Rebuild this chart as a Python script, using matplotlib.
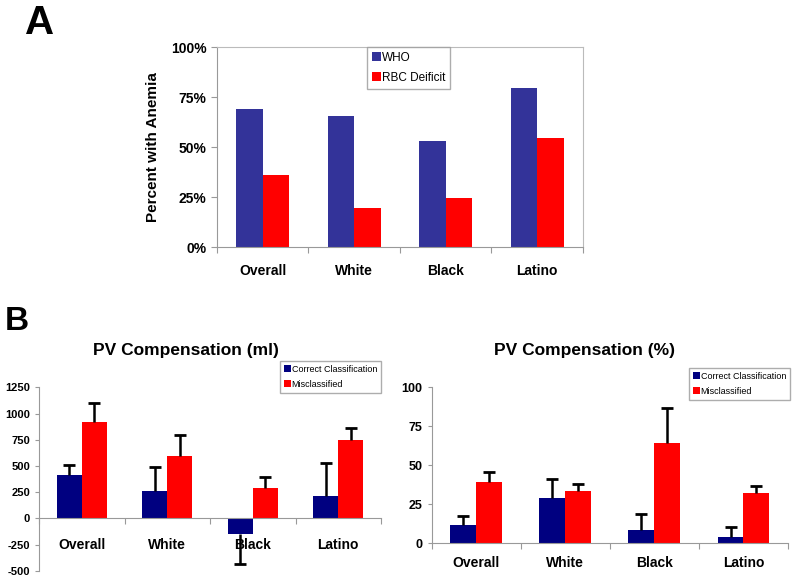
import matplotlib.pyplot as plt
import numpy as np

plt.rcParams['font.family'] = ['Liberation Sans', 'DejaVu Sans']

groups = ['Overall', 'White', 'Black', 'Latino']

# panel A: percent with anemia
who = [69, 65.5, 53, 79.5]
rbc_deficit = [36, 19.5, 24.3, 54.3]

# panel B: PV compensation (ml)
ml_correct = [418, 265, -153, 217]
ml_correct_err = [90, 220, 287, 312]
ml_miscl = [921, 593, 287, 746]
ml_miscl_err = [179, 201, 108, 112]

# panel B: PV compensation (%)
pct_correct = [11.7, 29.3, 8.5, 4.2]
pct_correct_err = [5.9, 11.7, 10.6, 6.4]
pct_miscl = [39.3, 33.8, 64.4, 32.1]
pct_miscl_err = [6.4, 4.2, 22.1, 4.6]

grey = '#999999'
x = np.arange(len(groups))
w = 0.29


def category_axis(ax, pad):
    ax.set_xlim(-0.5, len(groups) - 0.5)
    ax.set_xticks(np.arange(len(groups) + 1) - 0.5)
    ax.set_xticklabels([])
    ax.tick_params(axis='x', which='major', length=4, color=grey, direction='out')
    ax.set_xticks(x, minor=True)
    ax.set_xticklabels(groups, minor=True, fontweight='bold', fontsize=10)
    ax.tick_params(axis='x', which='minor', length=0, pad=pad)


def one_sided_err(ax, xpos, vals, errs):
    # error line goes away from zero only, with a single cap at its end
    ends = [v - e if v < 0 else v + e for v, e in zip(vals, errs)]
    ax.vlines(xpos, vals, ends, color='black', linewidth=1.8, zorder=3)
    ax.plot(xpos, ends, linestyle='none', marker='_', markersize=8,
            markeredgewidth=2, color='black', zorder=3)


def legend_box(handles, labels, anchor, size):
    fig.legend(handles, labels, loc='upper left', bbox_to_anchor=anchor, fontsize=size,
               frameon=True, fancybox=False, edgecolor=grey, handlelength=0.8,
               handleheight=0.8, handletextpad=0.1, borderpad=0.4, labelspacing=0.7,
               borderaxespad=0)


fig = plt.figure(figsize=(8, 5.82), dpi=100)

# ---- A
axA = fig.add_axes([0.271, 0.5756, 0.4575, 0.3436])
axA.bar(x - w / 2, who, w, color='#333399', label='WHO')
axA.bar(x + w / 2, rbc_deficit, w, color='#ff0000', label='RBC Deificit')
axA.set_ylim(0, 100)
axA.set_yticks([0, 25, 50, 75, 100])
axA.set_yticklabels(['0%', '25%', '50%', '75%', '100%'], fontweight='bold', fontsize=10)
axA.tick_params(axis='y', length=4, color=grey)
category_axis(axA, 12)
for s in axA.spines.values():
    s.set_color('#bbbbbb')
axA.spines['left'].set_color(grey)
axA.spines['bottom'].set_color(grey)
axA.set_ylabel('Percent with Anemia', fontweight='bold', fontsize=11, labelpad=8)
legend_box(*axA.get_legend_handles_labels(), (367 / 800, 1 - 47 / 582), 8.5)

# ---- B left
axL = fig.add_axes([0.04875, 0.0194, 0.4275, 0.3151])
axL.bar(x - w / 2, ml_correct, w, color='#000080', label='Correct Classification')
axL.bar(x + w / 2, ml_miscl, w, color='#ff0000', label='Misclassified')
one_sided_err(axL, x - w / 2, ml_correct, ml_correct_err)
one_sided_err(axL, x + w / 2, ml_miscl, ml_miscl_err)
axL.set_ylim(-500, 1250)
axL.spines['bottom'].set_position(('data', 0))
axL.set_yticks(np.arange(-500, 1251, 250))
axL.set_yticklabels([str(v) for v in range(-500, 1251, 250)], fontweight='bold', fontsize=8)
axL.tick_params(axis='y', length=3, color=grey)
category_axis(axL, 14)
for s in ['top', 'right']:
    axL.spines[s].set_visible(False)
axL.spines['left'].set_color(grey)
axL.spines['bottom'].set_color(grey)
axL.set_title('PV Compensation (ml)', fontweight='bold', fontsize=12.5, pad=23, x=0.43)
legend_box(*axL.get_legend_handles_labels(), (280 / 800, 1 - 361 / 582), 6.5)

# ---- B right
axR = fig.add_axes([0.5394, 0.0665, 0.4456, 0.268])
axR.bar(x - w / 2, pct_correct, w, color='#000080', label='Correct Classification')
axR.bar(x + w / 2, pct_miscl, w, color='#ff0000', label='Misclassified')
one_sided_err(axR, x - w / 2, pct_correct, pct_correct_err)
one_sided_err(axR, x + w / 2, pct_miscl, pct_miscl_err)
axR.set_ylim(0, 100)
axR.set_yticks([0, 25, 50, 75, 100])
axR.set_yticklabels(['0', '25', '50', '75', '100'], fontweight='bold', fontsize=9)
axR.tick_params(axis='y', length=3, color=grey)
category_axis(axR, 9)
for s in ['top', 'right']:
    axR.spines[s].set_visible(False)
axR.spines['left'].set_color(grey)
axR.spines['bottom'].set_color(grey)
axR.set_title('PV Compensation (%)', fontweight='bold', fontsize=12.5, pad=23, x=0.43)
legend_box(*axR.get_legend_handles_labels(), (689 / 800, 1 - 368 / 582), 6.5)

fig.text(25 / 800, 1 - 34 / 582, 'A', fontsize=29, fontweight='bold')
fig.text(5 / 800, 1 - 330 / 582, 'B', fontsize=24, fontweight='bold')

fig.savefig('out.png', dpi=100)
